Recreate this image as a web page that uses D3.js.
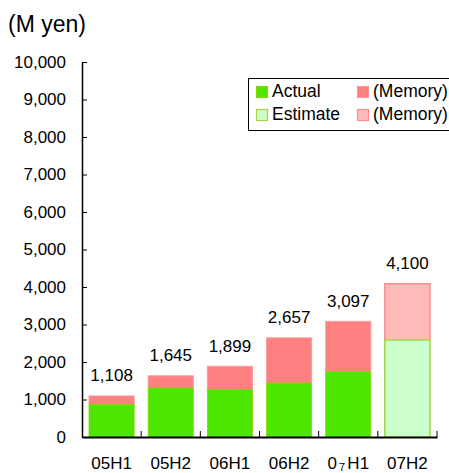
<!DOCTYPE html>
<html>
<head>
<meta charset="utf-8">
<script src="https://cdn.jsdelivr.net/npm/d3@7"></script>
<style>
  html, body { margin: 0; padding: 0; background: #fff; }
  svg { display: block; font-family: "Liberation Sans", Arial, "Noto Sans CJK JP", sans-serif; }
</style>
</head>
<body>
<svg id="chart" width="449" height="473"></svg>
<script>
// Half-year periods (the last one is an estimate)
const periods = ["05H1", "05H2", "06H1", "06H2", "0７H1", "07H2"];
// Base (actual / estimated) segment, in M yen
const baseValues = [872, 1307, 1262, 1440, 1742, 2590];
// Bar totals including the memory segment, in M yen
const totalValues = [1108, 1645, 1899, 2657, 3097, 4100];
// Whether each period is an estimate
const isEstimate = [false, false, false, false, false, true];
const yTicks = [0, 1000, 2000, 3000, 4000, 5000, 6000, 7000, 8000, 9000, 10000];

const colors = {
  actual: "#4ce600", actualEdge: "#8fd400",
  memory: "#ff8080", memoryEdge: "#ff9a9a",
  estimate: "#ccffcc", estimateEdge: "#a8d43c",
  memoryEst: "#ffbaba", memoryEstEdge: "#ff8c8c"
};

const svg = d3.select("#chart");
const plot = { left: 82, right: 437, top: 62, bottom: 437 };

const x = d3.scaleBand().domain(periods)
  .range([plot.left, plot.right]).paddingInner(0.22).paddingOuter(0.11);
const y = d3.scaleLinear().domain([0, 10000]).range([plot.bottom, plot.top]);

const rows = periods.map((p, i) => ({
  period: p, base: baseValues[i], total: totalValues[i], est: isEstimate[i]
}));

// Title / unit
svg.append("text").attr("x", 8).attr("y", 32)
  .attr("font-size", 23).attr("fill", "#000").text("(M yen)");

// Memory segment (upper part)
svg.append("g").selectAll("rect").data(rows).join("rect")
  .attr("x", d => x(d.period) + 0.5)
  .attr("width", x.bandwidth() - 1)
  .attr("y", d => y(d.total) + 0.5)
  .attr("height", d => y(d.base) - y(d.total))
  .attr("fill", d => d.est ? colors.memoryEst : colors.memory)
  .attr("stroke", d => d.est ? colors.memoryEstEdge : colors.memoryEdge)
  .attr("stroke-width", d => d.est ? 1.5 : 1);

// Base segment (lower part)
svg.append("g").selectAll("rect").data(rows).join("rect")
  .attr("x", d => x(d.period) + 0.5)
  .attr("width", x.bandwidth() - 1)
  .attr("y", d => y(d.base))
  .attr("height", d => y(0) - y(d.base))
  .attr("fill", d => d.est ? colors.estimate : colors.actual)
  .attr("stroke", d => d.est ? colors.estimateEdge : colors.actualEdge)
  .attr("stroke-width", d => d.est ? 1.5 : 0.8);

// Totals above bars
svg.append("g").selectAll("text").data(rows).join("text")
  .attr("x", d => x(d.period) + x.bandwidth() / 2)
  .attr("y", d => y(d.total) - 14)
  .attr("text-anchor", "middle")
  .attr("font-size", 17)
  .text(d => d3.format(",")(d.total));

// Y axis: ticks inside the plot, labels on the left
const yAxis = svg.append("g").attr("transform", `translate(${plot.left},0)`)
  .call(d3.axisLeft(y).tickValues(yTicks).tickFormat(d3.format(","))
    .tickSizeInner(-5).tickSizeOuter(0).tickPadding(16));
yAxis.select(".domain").attr("stroke", "#000").attr("stroke-width", 1.5);
yAxis.selectAll(".tick line").attr("stroke", "#000");
yAxis.selectAll(".tick text").attr("font-size", 17).attr("fill", "#000")
  .attr("font-family", "Liberation Sans, Arial, sans-serif");

// X axis: labels centred under bars, ticks at category boundaries pointing up
const xAxis = svg.append("g").attr("transform", `translate(0,${plot.bottom})`)
  .call(d3.axisBottom(x).tickSize(0).tickPadding(20));
xAxis.select(".domain").attr("stroke", "#000").attr("stroke-width", 2);
const xText = xAxis.selectAll(".tick text").attr("font-size", 17).attr("fill", "#000")
  .attr("font-family", "Liberation Sans, Arial, sans-serif");
// Full-width digits are set in a smaller Japanese face, slightly lowered
xText.each(function(d) {
  const t = d3.select(this);
  if (!/[\uFF10-\uFF19]/.test(d)) return;
  t.text(null);
  Array.from(d).forEach(ch => {
    const wide = /[\uFF10-\uFF19]/.test(ch);
    t.append("tspan")
      .attr("font-family", wide ? "Noto Sans CJK JP" : null)
      .attr("font-size", wide ? 10.5 : null)
      .attr("dy", wide ? 1.5 : null)
      .text(ch);
  });
  // restore the baseline after the lowered glyph
  t.selectAll("tspan").each(function(_, i, nodes) {
    const prev = i > 0 && /[\uFF10-\uFF19]/.test(nodes[i - 1].textContent);
    if (prev) d3.select(this).attr("dy", -1.5);
  });
});
const step = x.step();
const boundaries = d3.range(1, periods.length + 1).map(i => x.range()[0] + i * step);
xAxis.selectAll(".bound").data(boundaries).join("line")
  .attr("class", "bound")
  .attr("x1", d => d).attr("x2", d => d)
  .attr("y1", 0).attr("y2", -6)
  .attr("stroke", "#000");

// Legend
const legendItems = [
  { label: "Actual", fill: colors.actual, stroke: colors.actualEdge, col: 0, row: 0 },
  { label: "Estimate", fill: colors.estimate, stroke: colors.estimateEdge, col: 0, row: 1 },
  { label: "(Memory)", fill: colors.memory, stroke: colors.memoryEdge, col: 1, row: 0 },
  { label: "(Memory)", fill: colors.memoryEst, stroke: colors.memoryEstEdge, col: 1, row: 1 }
];
const legend = svg.append("g").attr("transform", "translate(248,78)");
legend.append("rect").attr("x", 0.5).attr("y", 0.5).attr("width", 210).attr("height", 52)
  .attr("fill", "#fff").attr("stroke", "#000");
const li = legend.selectAll("g.item").data(legendItems).join("g")
  .attr("class", "item")
  .attr("transform", d => `translate(${8 + d.col * 101},${8 + d.row * 23})`);
li.append("rect").attr("x", 0.5).attr("y", 0.5).attr("width", 11).attr("height", 11)
  .attr("fill", d => d.fill).attr("stroke", d => d.stroke).attr("stroke-width", 1.2);
li.append("text").attr("x", 16).attr("y", 10.5).attr("font-size", 17.5).text(d => d.label);
</script>
</body>
</html>
